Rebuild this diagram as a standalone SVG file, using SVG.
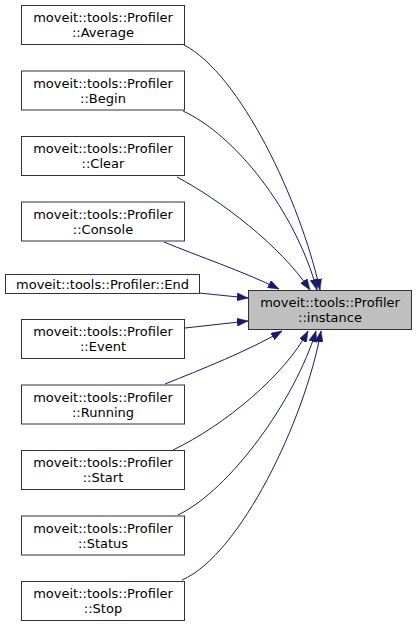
<svg xmlns="http://www.w3.org/2000/svg" width="416" height="627" viewBox="0 0 416 627">
<style>
.n rect{fill:#ffffff;stroke:#333333;stroke-width:1}
.n.h rect{fill:#bfbfbf}
.n text{font-family:"DejaVu Sans",sans-serif;font-size:13px;fill:#000000;text-anchor:middle}
.e path{fill:none;stroke:#191970;stroke-width:1;marker-end:url(#a)}
</style>
<defs>
<marker id="a" markerUnits="userSpaceOnUse" markerWidth="11" markerHeight="8" refX="11" refY="4" orient="auto" viewBox="0 0 11 8">
<path d="M0,0 L11,4 L0,8 z" fill="#191970" stroke="#191970" stroke-width="0.5"/>
</marker>
</defs>
<g id="edges" class="e">
<path d="M184,45 C240,74 300,200 320,290"/>
<path d="M183,111 C235,135 295,210 317,290"/>
<path d="M177,177 C220,200 280,245 310,290"/>
<path d="M164,242 C195,255 245,272 279,289"/>
<path d="M199,293 L248,298"/>
<path d="M185,328 L248,321"/>
<path d="M165,384 C200,370 250,350 282,331"/>
<path d="M173,450 C225,425 285,375 308,331"/>
<path d="M178,515 C230,490 295,400 316,331"/>
<path d="M182,580 C240,555 305,420 321,331"/>
</g>
<g id="instance" class="n h"><rect x="248.5" y="290.5" width="163" height="39"/><text x="330" y="307">moveit::tools::Profiler</text><text x="330" y="322">::instance</text></g>
<g id="average" class="n"><rect x="21.5" y="5.5" width="163" height="39"/><text x="103" y="22">moveit::tools::Profiler</text><text x="103" y="37">::Average</text></g>
<g id="begin" class="n"><rect x="21.5" y="71" width="163" height="39"/><text x="103" y="87.5">moveit::tools::Profiler</text><text x="103" y="102.5">::Begin</text></g>
<g id="clear" class="n"><rect x="21.5" y="136.5" width="163" height="39"/><text x="103" y="153">moveit::tools::Profiler</text><text x="103" y="168">::Clear</text></g>
<g id="console" class="n"><rect x="21.5" y="202" width="163" height="39"/><text x="103" y="218.5">moveit::tools::Profiler</text><text x="103" y="233.5">::Console</text></g>
<g id="end" class="n"><rect x="5.5" y="274.5" width="194" height="19"/><text x="102.5" y="289">moveit::tools::Profiler::End</text></g>
<g id="event" class="n"><rect x="21.5" y="319.5" width="163" height="39"/><text x="103" y="336">moveit::tools::Profiler</text><text x="103" y="351">::Event</text></g>
<g id="running" class="n"><rect x="21.5" y="385" width="163" height="39"/><text x="103" y="401.5">moveit::tools::Profiler</text><text x="103" y="416.5">::Running</text></g>
<g id="start" class="n"><rect x="21.5" y="450.5" width="163" height="39"/><text x="103" y="467">moveit::tools::Profiler</text><text x="103" y="482">::Start</text></g>
<g id="status" class="n"><rect x="21.5" y="516" width="163" height="39"/><text x="103" y="532.5">moveit::tools::Profiler</text><text x="103" y="547.5">::Status</text></g>
<g id="stop" class="n"><rect x="21.5" y="581.5" width="163" height="39"/><text x="103" y="598">moveit::tools::Profiler</text><text x="103" y="613">::Stop</text></g>
</svg>
